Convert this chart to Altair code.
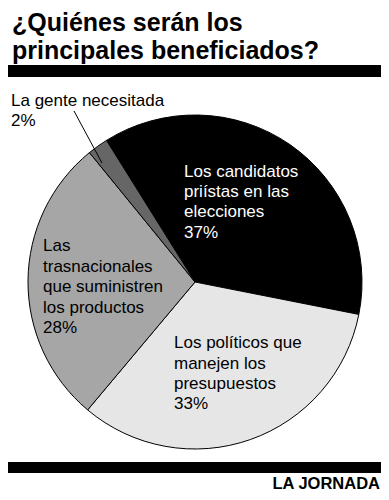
import math
import altair as alt
import pandas as pd

# ---- data ----
categories = [
    "Los candidatos priístas en las elecciones",
    "Los políticos que manejen los presupuestos",
    "Las trasnacionales que suministren los productos",
    "La gente necesitada",
]
values = [37, 33, 28, 2]
slice_colors = ["#000000", "#e6e6e6", "#a6a6a6", "#666666"]
label_lines = [
    "Los candidatos\npriístas en las\nelecciones\n37%",
    "Los políticos que\nmanejen los\npresupuestos\n33%",
    "Las\ntrasnacionales\nque suministren\nlos productos\n28%",
    "La gente necesitada\n2%",
]
title_lines = ["¿Quiénes serán los", "principales beneficiados?"]
source = "LA JORNADA"

W, H = 373, 484
FONT = "Liberation Sans"

df = pd.DataFrame({"cat": categories, "value": values, "order": list(range(len(values)))})

start = math.radians(-32)
pie = alt.Chart(df).mark_arc(radius=167, stroke="black", strokeWidth=1).encode(
    theta=alt.Theta("value:Q", stack=True, scale=alt.Scale(range=[start, start + 2 * math.pi])),
    color=alt.Color("cat:N", scale=alt.Scale(domain=categories, range=slice_colors), legend=None),
    order=alt.Order("order:Q"),
    x=alt.value(187),
    y=alt.value(274),
)

one = pd.DataFrame({"k": [0]})


def bar(y0, y1):
    return alt.Chart(one).mark_rect(color="black").encode(
        x=alt.value(0), x2=alt.value(W), y=alt.value(y0), y2=alt.value(y1)
    )


leader = alt.Chart(one).mark_rule(color="black", strokeWidth=1).encode(
    x=alt.value(66), y=alt.value(103), x2=alt.value(94), y2=alt.value(155)
)


def text_layer(txt, x, y, color="black", size=17, bold=False, align="left", lh=20.4):
    return alt.Chart(pd.DataFrame({"t": [txt]})).mark_text(
        align=align, baseline="alphabetic", font=FONT, fontSize=size,
        fontWeight="bold" if bold else "normal", color=color,
        lineBreak="\n", lineHeight=lh,
    ).encode(text="t:N", x=alt.value(x), y=alt.value(y))


layers = [
    pie,
    bar(57, 69),
    bar(454, 465),
    leader,
    text_layer("\n".join(title_lines), 4, 23, size=25, bold=True, lh=28),
    text_layer(label_lines[0], 176, 168.5, color="white"),
    text_layer(label_lines[1], 166, 340.3),
    text_layer(label_lines[2], 35, 243, lh=20.6),
    text_layer(label_lines[3], 3, 98, lh=20),
    text_layer(source, W - 1, 481, size=16.5, bold=True, align="right"),
]

chart = alt.layer(*layers).properties(
    width=W, height=H, autosize=alt.AutoSizeParams(type="none"), padding=0
).configure_view(stroke=None)

chart.save("out.html", embed_options={"renderer": "svg", "actions": False})
